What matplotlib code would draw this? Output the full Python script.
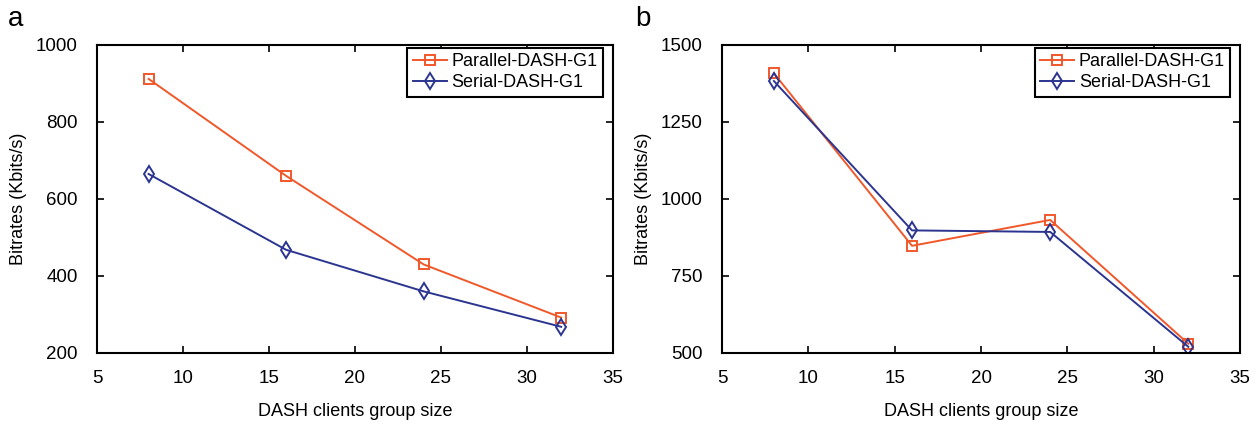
import matplotlib
matplotlib.use("Agg")
import matplotlib.pyplot as plt

plt.rcParams['font.family'] = ['Liberation Sans', 'DejaVu Sans']

group_size = [8, 16, 24, 32]

# panel a
parallel_a = [912, 660, 430, 292]
serial_a = [665, 468, 360, 268]

# panel b
parallel_b = [1408, 848, 932, 530]
serial_b = [1383, 898, 893, 520]

RED = "#f0582a"
BLUE = "#2b3590"


def draw_panel(ax, parallel, serial, ylim, yticks):
    ax.plot(group_size, parallel, color=RED, marker="s", markersize=6.5,
            markerfacecolor="none", markeredgecolor=RED, markeredgewidth=1.4,
            linewidth=1.4, label="Parallel-DASH-G1")
    ax.plot(group_size, serial, color=BLUE, marker="d", markersize=8.5,
            markerfacecolor="none", markeredgecolor=BLUE, markeredgewidth=1.4,
            linewidth=1.4, label="Serial-DASH-G1")
    ax.set_xlim(5, 35)
    ax.set_xticks(range(5, 40, 5))
    ax.set_ylim(*ylim)
    ax.set_yticks(yticks)
    ax.tick_params(direction="in", top=True, right=True, labelsize=13.5,
                   length=5, width=1.2, colors="black")
    ax.tick_params(axis="y", pad=14)
    ax.tick_params(axis="x", pad=12)
    for sp in ax.spines.values():
        sp.set_linewidth(1.5)
    ax.set_xlabel("DASH clients group size", fontsize=13, labelpad=12)
    ax.set_ylabel("Bitrates (Kbits/s)", fontsize=13, labelpad=6)
    leg = ax.legend(loc="upper right", bbox_to_anchor=(0.981, 0.99),
                    borderaxespad=0, fontsize=13, fancybox=False,
                    framealpha=1, edgecolor="black", handlelength=1.9,
                    handletextpad=0.25, borderpad=0.3, labelspacing=0.2)
    leg.get_frame().set_linewidth(1.5)


fig = plt.figure(figsize=(12.58, 4.24), dpi=100)
ax1 = fig.add_axes([0.0771, 0.1675, 0.410, 0.7264])
ax2 = fig.add_axes([0.574, 0.1675, 0.4118, 0.7264])

draw_panel(ax1, parallel_a, serial_a, (200, 1000), range(200, 1001, 200))
draw_panel(ax2, parallel_b, serial_b, (500, 1500), range(500, 1501, 250))

fig.text(0.006, 0.955, "a", fontsize=20, va="center", ha="left")
fig.text(0.505, 0.955, "b", fontsize=20, va="center", ha="left")

fig.savefig("out.png", dpi=100)
